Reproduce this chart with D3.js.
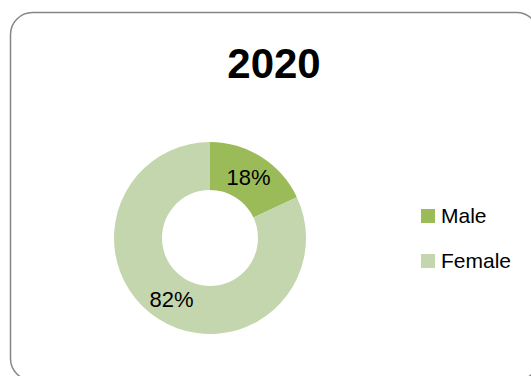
<!DOCTYPE html>
<html>
<head>
<meta charset="utf-8">
<script src="https://cdn.jsdelivr.net/npm/d3@7"></script>
<style>
  html, body { margin: 0; padding: 0; background: #fff; }
  svg { display: block; font-family: "Liberation Sans", Arial, sans-serif; }
</style>
</head>
<body>
<svg id="chart" width="531" height="376"></svg>
<script>
    // data
    const title = "2020";
    const categories = ["Male", "Female"];
    const values = [18, 82];
    const colors = ["#9bbb59", "#c4d6ae"];

    const svg = d3.select("#chart");

    // chart frame (rounded border, cut off at right and bottom)
    svg.append("rect")
      .attr("x", 10.5).attr("y", 12.5)
      .attr("width", 528).attr("height", 368)
      .attr("rx", 22).attr("ry", 22)
      .attr("fill", "#fff")
      .attr("stroke", "#868686")
      .attr("stroke-width", 1.5);

    svg.append("text")
      .attr("x", 274).attr("y", 78)
      .attr("text-anchor", "middle")
      .attr("font-size", "42px")
      .attr("font-weight", "bold")
      .attr("fill", "#000")
      .text(title);

    const cx = 210, cy = 238, outerR = 96, innerR = 48;
    const g = svg.append("g").attr("transform", `translate(${cx},${cy})`);

    const data = categories.map((c, i) => ({ name: c, value: values[i], color: colors[i] }));
    const pie = d3.pie().sort(null).value(d => d.value);
    const arc = d3.arc().innerRadius(innerR).outerRadius(outerR);

    const arcs = pie(data);

    g.selectAll("path")
      .data(arcs)
      .enter().append("path")
      .attr("d", arc)
      .attr("fill", d => d.data.color);

    g.selectAll(".label")
      .data(arcs)
      .enter().append("text")
      .attr("class", "label")
      .attr("transform", d => `translate(${arc.centroid(d)})`)
      .attr("text-anchor", "middle")
      .attr("dy", "0.36em")
      .attr("font-size", "22px")
      .attr("fill", "#000")
      .text(d => d.data.value + "%");

    // legend
    const legend = svg.append("g").attr("transform", "translate(421,209)");
    const items = legend.selectAll("g")
      .data(data)
      .enter().append("g")
      .attr("transform", (d, i) => `translate(0,${i * 45})`);

    items.append("rect")
      .attr("width", 14).attr("height", 14)
      .attr("fill", d => d.color);

    items.append("text")
      .attr("x", 20).attr("y", 14)
      .attr("font-size", "21px")
      .attr("fill", "#000")
      .text(d => d.name);
</script>
</body>
</html>
